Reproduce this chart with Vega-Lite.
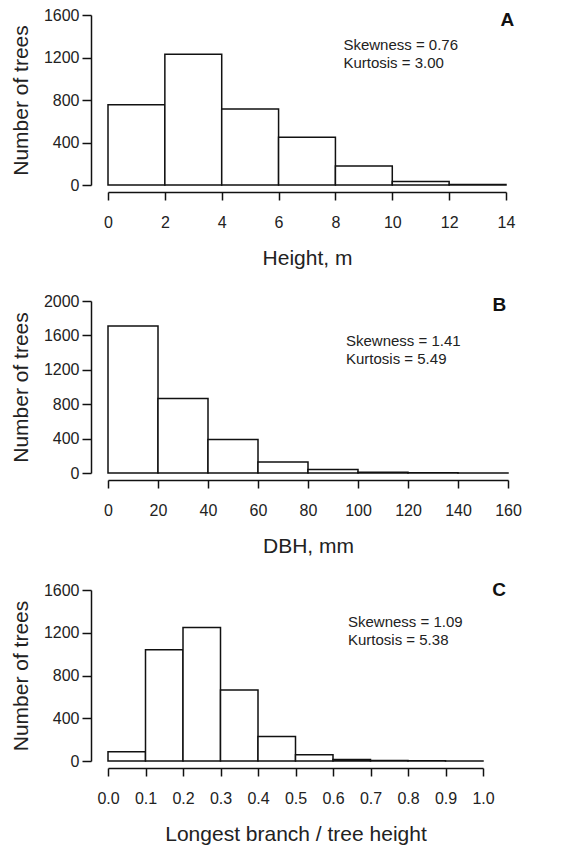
{
  "$schema": "https://vega.github.io/schema/vega-lite/v6.json",
  "background": "white",
  "padding": {"left": 10, "top": 7, "right": 10, "bottom": 5},
  "spacing": 25,
  "datasets": {
    "A": [
      {"lo": 0, "hi": 2, "n": 755},
      {"lo": 2, "hi": 4, "n": 1230},
      {"lo": 4, "hi": 6, "n": 715},
      {"lo": 6, "hi": 8, "n": 450},
      {"lo": 8, "hi": 10, "n": 178},
      {"lo": 10, "hi": 12, "n": 32},
      {"lo": 12, "hi": 14, "n": 5}
    ],
    "B": [
      {"lo": 0, "hi": 20, "n": 1710},
      {"lo": 20, "hi": 40, "n": 865},
      {"lo": 40, "hi": 60, "n": 390},
      {"lo": 60, "hi": 80, "n": 128},
      {"lo": 80, "hi": 100, "n": 42},
      {"lo": 100, "hi": 120, "n": 10},
      {"lo": 120, "hi": 140, "n": 2},
      {"lo": 140, "hi": 160, "n": 1}
    ],
    "C": [
      {"lo": 0.0, "hi": 0.1, "n": 87},
      {"lo": 0.1, "hi": 0.2, "n": 1040},
      {"lo": 0.2, "hi": 0.3, "n": 1250},
      {"lo": 0.3, "hi": 0.4, "n": 665},
      {"lo": 0.4, "hi": 0.5, "n": 230},
      {"lo": 0.5, "hi": 0.6, "n": 59},
      {"lo": 0.6, "hi": 0.7, "n": 15},
      {"lo": 0.7, "hi": 0.8, "n": 5},
      {"lo": 0.8, "hi": 0.9, "n": 2},
      {"lo": 0.9, "hi": 1.0, "n": 1}
    ]
  },
  "config": {
    "view": {"stroke": null},
    "font": "Liberation Sans",
    "axis": {
      "grid": false,
      "domainColor": "#111",
      "domainWidth": 1.5,
      "tickColor": "#111",
      "tickWidth": 1.5,
      "labelColor": "#222",
      "labelFont": "Liberation Sans",
      "labelFontSize": 16,
      "titleColor": "#222",
      "titleFont": "Liberation Sans",
      "titleFontSize": 21,
      "titleFontWeight": "normal",
      "labelOverlap": false,
      "tickCount": 30
    },
    "axisX": {"offset": 7, "tickSize": 8, "labelPadding": 14, "titlePadding": 17, "labelFlush": false},
    "axisY": {"offset": 17, "tickSize": 9, "labelPadding": 3, "titlePadding": 12}
  },
  "vconcat": [
    {
      "width": 398,
      "height": 170,
      "layer": [
        {
          "data": {"name": "A"},
          "mark": {"type": "bar", "fill": "white", "stroke": "#111", "strokeWidth": 1.5},
          "encoding": {
            "x": {"field": "lo", "type": "quantitative", "scale": {"domain": [0, 14], "nice": false}, "axis": {"values": [0, 2, 4, 6, 8, 10, 12, 14], "format": "d", "tickCount": 30, "labelOverlap": false, "title": "Height, m"}},
            "x2": {"field": "hi"},
            "y": {"field": "n", "type": "quantitative", "scale": {"domain": [0, 1600], "nice": false}, "axis": {"values": [0, 400, 800, 1200, 1600], "tickCount": 30, "format": "d", "labelOverlap": false, "title": "Number of trees"}},
            "y2": {"datum": 0}
          }
        },
        {
          "data": {"values": [{}]},
          "mark": {"type": "text", "fontWeight": "bold", "fontSize": 19, "color": "#111", "align": "center", "baseline": "middle"},
          "encoding": {"x": {"datum": 14.05}, "y": {"datum": 1555}, "text": {"value": "A"}}
        },
        {
          "data": {"values": [{}]},
          "mark": {"type": "text", "fontSize": 15, "color": "#222", "align": "left", "baseline": "middle", "lineHeight": 18, "text": ["Skewness = 0.76", "Kurtosis = 3.00"]},
          "encoding": {"x": {"datum": 8.28}, "y": {"datum": 1321}}
        }
      ]
    },
    {
      "width": 400,
      "height": 172,
      "layer": [
        {
          "data": {"name": "B"},
          "mark": {"type": "bar", "fill": "white", "stroke": "#111", "strokeWidth": 1.5},
          "encoding": {
            "x": {"field": "lo", "type": "quantitative", "scale": {"domain": [0, 160], "nice": false}, "axis": {"values": [0, 20, 40, 60, 80, 100, 120, 140, 160], "format": "d", "tickCount": 30, "labelOverlap": false, "title": "DBH, mm"}},
            "x2": {"field": "hi"},
            "y": {"field": "n", "type": "quantitative", "scale": {"domain": [0, 2000], "nice": false}, "axis": {"values": [0, 400, 800, 1200, 1600, 2000], "tickCount": 30, "format": "d", "labelOverlap": false, "title": "Number of trees"}},
            "y2": {"datum": 0}
          }
        },
        {
          "data": {"values": [{}]},
          "mark": {"type": "text", "fontWeight": "bold", "fontSize": 19, "color": "#111", "align": "center", "baseline": "middle"},
          "encoding": {"x": {"datum": 156.5}, "y": {"datum": 1955}, "text": {"value": "B"}}
        },
        {
          "data": {"values": [{}]},
          "mark": {"type": "text", "fontSize": 15, "color": "#222", "align": "left", "baseline": "middle", "lineHeight": 18, "text": ["Skewness = 1.41", "Kurtosis = 5.49"]},
          "encoding": {"x": {"datum": 95.2}, "y": {"datum": 1530}}
        }
      ]
    },
    {
      "width": 375,
      "height": 171,
      "layer": [
        {
          "data": {"name": "C"},
          "mark": {"type": "bar", "fill": "white", "stroke": "#111", "strokeWidth": 1.5},
          "encoding": {
            "x": {"field": "lo", "type": "quantitative", "scale": {"domain": [0, 1], "nice": false}, "axis": {"values": [0, 0.1, 0.2, 0.3, 0.4, 0.5, 0.6, 0.7, 0.8, 0.9, 1.0], "tickCount": 30, "format": ".1f", "labelOverlap": false, "title": "Longest branch / tree height"}},
            "x2": {"field": "hi"},
            "y": {"field": "n", "type": "quantitative", "scale": {"domain": [0, 1600], "nice": false}, "axis": {"values": [0, 400, 800, 1200, 1600], "tickCount": 30, "format": "d", "labelOverlap": false, "title": "Number of trees"}},
            "y2": {"datum": 0}
          }
        },
        {
          "data": {"values": [{}]},
          "mark": {"type": "text", "fontWeight": "bold", "fontSize": 19, "color": "#111", "align": "center", "baseline": "middle"},
          "encoding": {"x": {"datum": 1.043}, "y": {"datum": 1600}, "text": {"value": "C"}}
        },
        {
          "data": {"values": [{}]},
          "mark": {"type": "text", "fontSize": 15, "color": "#222", "align": "left", "baseline": "middle", "lineHeight": 18, "text": ["Skewness = 1.09", "Kurtosis = 5.38"]},
          "encoding": {"x": {"datum": 0.64}, "y": {"datum": 1305}}
        }
      ]
    }
  ]
}
